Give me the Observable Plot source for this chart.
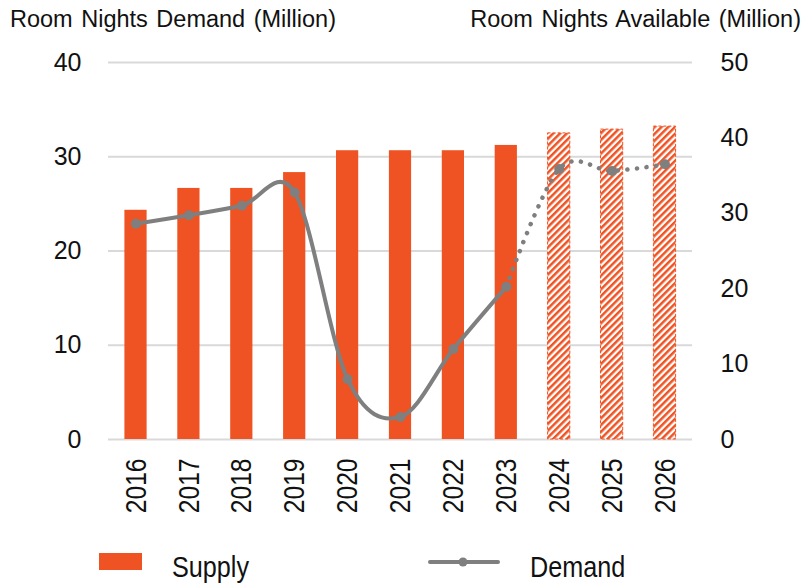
<!DOCTYPE html>
<html><head><meta charset="utf-8">
<script src="https://cdn.jsdelivr.net/npm/d3@7"></script>
<script src="https://cdn.jsdelivr.net/npm/@observablehq/plot@0.6"></script>
<style>
body{margin:0;background:#fff;font-family:"Liberation Sans",Arial,sans-serif;color:#111;}
#wrap{position:relative;width:806px;height:583px;overflow:hidden}
#titles{position:relative;height:40px}
.title{position:absolute;top:7px;font-size:23.5px;line-height:24px;white-space:nowrap;word-spacing:2px}
#legend{position:relative;height:54px}
.ltext{position:absolute;top:23px;font-size:30px;line-height:30px;white-space:nowrap;transform:scaleX(0.84);transform-origin:0 0}
</style></head><body>
<div id="wrap">
  <div id="titles">
    <span class="title" style="left:10px">Room Nights Demand (Million)</span>
    <span class="title" style="right:5px">Room Nights Available (Million)</span>
  </div>
  <div id="plot"></div>
  <div id="legend">
    <div style="position:absolute;left:99px;top:24px;width:43px;height:17px;background:#EF5323"></div>
    <span class="ltext" style="left:172px">Supply</span>
    <svg style="position:absolute;left:425px;top:25px" width="80" height="16">
      <line x1="5" y1="8" x2="73" y2="8" stroke="#7f7f7f" stroke-width="4" stroke-linecap="round"/>
      <circle cx="38" cy="8" r="4.5" fill="#7f7f7f"/>
    </svg>
    <span class="ltext" style="left:530px">Demand</span>
  </div>
</div>
<script>
const years = ["2016","2017","2018","2019","2020","2021","2022","2023","2024","2025","2026"];
const supply = [30.4, 33.3, 33.3, 35.4, 38.3, 38.3, 38.3, 39.0, 40.6, 41.1, 41.5];
const demand = [22.9, 23.8, 24.8, 26.2, 6.4, 2.4, 9.6, 16.2, 28.7, 28.5, 29.2];
const forecastYears = ["2024","2025","2026"];
const leftTicks = [0, 10, 20, 30, 40];
const rightTicks = [0, 10, 20, 30, 40, 50];
const leftMax = 40, rightMax = 50;

const orange = "#EF5323", grey = "#7f7f7f";
const k = leftMax / rightMax;
const rows = years.map((year, i) => ({
  year, supply: supply[i], supplyScaled: supply[i] * k, demand: demand[i],
  forecast: forecastYears.includes(year)
}));
const actual = rows.filter(d => !d.forecast);
const forecast = rows.filter(d => d.forecast);
const dottedPart = [actual[actual.length - 1], ...forecast];

const chart = Plot.plot({
  width: 806, height: 489,
  marginTop: 22, marginBottom: 90, marginLeft: 108, marginRight: 114,
  style: {fontFamily: "'Liberation Sans', Arial, sans-serif", color: "#111", background: "#fff"},
  x: {type: "band", domain: years, paddingInner: 0.58, paddingOuter: 0.31, round: false, label: null},
  y: {domain: [0, leftMax], label: null},
  marks: [
    Plot.gridY({ticks: leftTicks, stroke: "#d9d9d9", strokeOpacity: 1, strokeWidth: 2}),
    Plot.barY(actual, {x: "year", y: "supplyScaled", fill: orange}),
    Plot.barY(forecast, {x: "year", y: "supplyScaled", fill: "url(#hatch)", stroke: orange, strokeWidth: 1, strokeDasharray: "3,2"}),
    Plot.line(actual, {x: "year", y: "demand", curve: "cardinal", tension: 0, stroke: grey, strokeWidth: 4, strokeLinecap: "round"}),
    Plot.line(dottedPart, {x: "year", y: "demand", curve: "cardinal", tension: 0, stroke: grey, strokeWidth: 4.5, strokeDasharray: "0.1 9.5", strokeLinecap: "round"}),
    Plot.dot(rows, {x: "year", y: "demand", r: 5, fill: grey}),
    Plot.axisY({ticks: leftTicks, anchor: "left", tickSize: 0, tickPadding: 27, fontSize: 25, label: null, fill: "#111"}),
    Plot.axisY({ticks: rightTicks.map(v => v * k), anchor: "right", tickFormat: d => Math.round(d / k), tickSize: 0, tickPadding: 28, fontSize: 25, label: null, fill: "#111"}),
    Plot.axisX({tickRotate: -90, tickSize: 0, tickPadding: 19, fontSize: 30, label: null, fill: "#111"})
  ]
});

const ns = "http://www.w3.org/2000/svg";
const defs = document.createElementNS(ns, "defs");
defs.innerHTML = `<pattern id="hatch" patternUnits="userSpaceOnUse" width="4.8" height="4.8" patternTransform="rotate(45)">
  <rect width="4.8" height="4.8" fill="#fff"/><rect width="2.5" height="4.8" fill="${orange}"/></pattern>`;
chart.insertBefore(defs, chart.firstChild);
document.getElementById("plot").appendChild(chart);
// condense the rotated year labels (narrow typeface look)
chart.querySelectorAll('g[aria-label="x-axis tick label"] text').forEach(t => {
  const len = t.getComputedTextLength();
  t.setAttribute("textLength", (len * 0.82).toFixed(1));
  t.setAttribute("lengthAdjust", "spacingAndGlyphs");
});
</script>
</body></html>
